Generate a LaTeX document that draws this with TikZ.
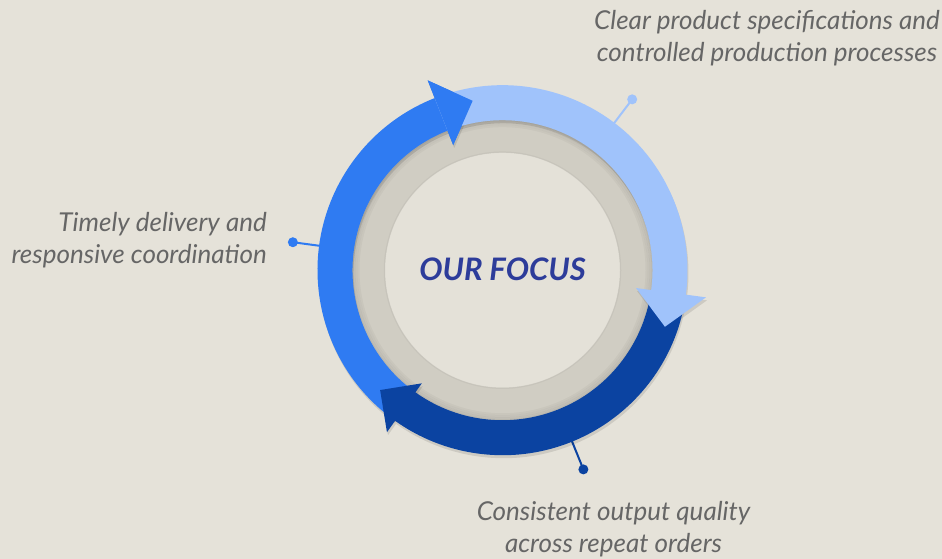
\documentclass[tikz,border=0pt]{standalone}
\usepackage{fontspec}
\setmainfont{Lato}
\definecolor{bg}{HTML}{E5E2D9}
\definecolor{grayring}{HTML}{D0CDC3}
\definecolor{diskc}{HTML}{E4E1D8}
\definecolor{lightb}{HTML}{A0C3FB}
\definecolor{midb}{HTML}{2F7BF2}
\definecolor{darkb}{HTML}{0B43A1}
\definecolor{focusc}{HTML}{2D3C9A}
\definecolor{labelc}{HTML}{666666}
% #1 colour, #2 start angle, #3 head base angle, #4 tip angle,
% #5 head inner radius, #6 head outer radius, #7 tip radius
\newcommand{\ringarrow}[7]{%
  \fill[#1] (#2:185pt) arc[start angle=#2, end angle=#3, radius=185pt]
    -- (#3:#6) -- (#4:#7) -- (#3:#5) -- (#3:150pt)
    arc[start angle=#3, end angle=#2, radius=150pt] -- cycle;}
\tikzset{
  labeltext/.style={inner sep=0pt, text=labelc,
    font=\fontsize{26}{32}\selectfont\itshape},
  calldot/.style={circle, inner sep=0pt, minimum size=10pt},
  callline/.style={line width=2pt},
}
\begin{document}
\begin{tikzpicture}[x=1pt,y=1pt]
  \fill[bg] (0,0) rectangle (942,559);
  \useasboundingbox (0,0) rectangle (942,559);

  \begin{scope}[shift={(502.5,288.8)}]
    % gray ring and inner disk
    \fill[grayring] (0,0) circle[radius=152pt];
    \foreach \r/\o in {150/0.10,148/0.07,146/0.05,144/0.03}
      \draw[black, opacity=\o, line width=2pt] (0,0) circle[radius=\r pt];
    \fill[diskc] (0,0) circle[radius=117.5pt];
    \draw[black, opacity=0.04, line width=1.5pt] (0,0) circle[radius=118pt];

    % call-out lines and dots
    \coordinate (c1) at (52.8:180pt);
    \coordinate (c2) at (172.4:180pt);
    \coordinate (c3) at (-67.9:180pt);
    \node[calldot, fill=lightb] (d1) at (52.8:214.5pt) {};
    \node[calldot, fill=midb] (d2) at (172.4:211.5pt) {};
    \node[calldot, fill=darkb] (d3) at (-67.9:215pt) {};
    \draw[callline, lightb] (c1) -- (d1.center);
    \draw[callline, midb] (c2) -- (d2.center);
    \draw[callline, darkb] (c3) -- (d3.center);

    % soft shadows of the arrows
    \begin{scope}[shift={(1pt,-3pt)}, opacity=0.10]
      \ringarrow{black}{234}{111.5}{100}{134.5pt}{204pt}{172pt}
      \ringarrow{black}{-7.6}{-125.5}{-135.6}{139pt}{199pt}{171.3pt}
      \ringarrow{black}{111.5}{-7.6}{-19.2}{134.7pt}{205.3pt}{172pt}
    \end{scope}

    % arrows
    \ringarrow{midb}{234}{111.5}{100}{134.5pt}{204pt}{172pt}
    \ringarrow{darkb}{-7.6}{-125.5}{-135.6}{139pt}{199pt}{171.3pt}
    \ringarrow{lightb}{111.5}{-7.6}{-19.2}{134.7pt}{205.3pt}{172pt}
    \fill[midb] (111.5:204pt) -- (100:172pt) -- (111.5:134.5pt) -- cycle;

    \node[inner sep=0pt, text=focusc,
      font=\fontsize{31}{36}\selectfont\bfseries\itshape] (focus) at (0,1) {OUR FOCUS};
  \end{scope}

  \node[labeltext, align=center, anchor=base] (t1) at (767,497.3)
    {Clear product specifications and\\controlled production processes};
  \node[labeltext, align=right, anchor=base east] (t2) at (267,295.5)
    {Timely delivery and\\responsive coordination};
  \node[labeltext, align=center, anchor=base] (t3) at (613.5,6)
    {Consistent output quality\\across repeat orders};
\end{tikzpicture}
\end{document}
